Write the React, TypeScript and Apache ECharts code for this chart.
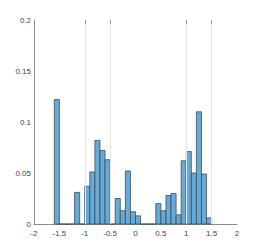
import React, { useEffect, useRef } from "react";
import * as echarts from "echarts";

const binStart = -1.6;
const binWidth = 0.1;
const probabilities = [
  0.122, 0, 0, 0, 0.031, 0, 0.037, 0.051, 0.082, 0.072, 0.063, 0, 0.025, 0.013,
  0.052, 0.012, 0.008, 0, 0, 0, 0.02, 0.013, 0.028, 0.03, 0.009, 0.062, 0.071,
  0.05, 0.11, 0.049, 0.006,
];
const refLines = [-1, -0.5, 1, 1.5];
const xTicks = [-2, 2, 0.5];
const yTicks = [0, 0.2, 0.05];

export default function App() {
  const ref = useRef<HTMLDivElement>(null);
  useEffect(() => {
    if (!ref.current) return;
    const chart = echarts.init(ref.current, null, { renderer: "svg" });
    const data = probabilities.map((p, i) => {
      const lo = +(binStart + i * binWidth).toFixed(2);
      return [lo, +(lo + binWidth).toFixed(2), p];
    });
    const labelStyle = {
      color: "#444",
      fontSize: 8,
      fontFamily: "Liberation Sans, Arial, sans-serif",
    };
    chart.setOption({
      animation: false,
      grid: { left: 34, right: 25, top: 20, bottom: 27, containLabel: false },
      xAxis: {
        type: "value",
        min: xTicks[0],
        max: xTicks[1],
        interval: xTicks[2],
        axisLine: { show: true, onZero: false, lineStyle: { color: "#8a8a8a", width: 1 } },
        axisTick: { show: false },
        splitLine: { show: false },
        axisLabel: { ...labelStyle, margin: 5 },
      },
      yAxis: {
        type: "value",
        min: yTicks[0],
        max: yTicks[1],
        interval: yTicks[2],
        axisLine: { show: true, onZero: false, lineStyle: { color: "#8a8a8a", width: 1 } },
        axisTick: { show: false },
        splitLine: { show: false },
        axisLabel: { ...labelStyle, margin: 3 },
      },
      series: [
        {
          type: "custom",
          data,
          encode: { x: [0, 1], y: 2 },
          renderItem: (params: any, api: any) => {
            const p0 = api.coord([api.value(0), 0]);
            const p1 = api.coord([api.value(1), api.value(2)]);
            return {
              type: "rect",
              shape: { x: p0[0], y: p1[1], width: p1[0] - p0[0], height: p0[1] - p1[1] },
              style: { fill: "#66aad7", stroke: "#3b4d5c", lineWidth: 0.8 },
            };
          },
          z: 3,
          markLine: {
            silent: true,
            symbol: "none",
            label: { show: false },
            lineStyle: { color: "#e6e6e6", width: 1, type: "solid" },
            data: [
              ...refLines.map((v) => ({ xAxis: v })),
              ...refLines.map((v) => [
                { coord: [v, yTicks[1]], lineStyle: { color: "#999", width: 1 } },
                { coord: [v, yTicks[1] - 0.004] },
              ]),
            ],
          },
        },
      ],
    });
    return () => chart.dispose();
  }, []);
  return (
    <div
      ref={ref}
      style={{ position: "fixed", left: 0, top: 0, width: 262, height: 251, background: "#fff" }}
    />
  );
}
